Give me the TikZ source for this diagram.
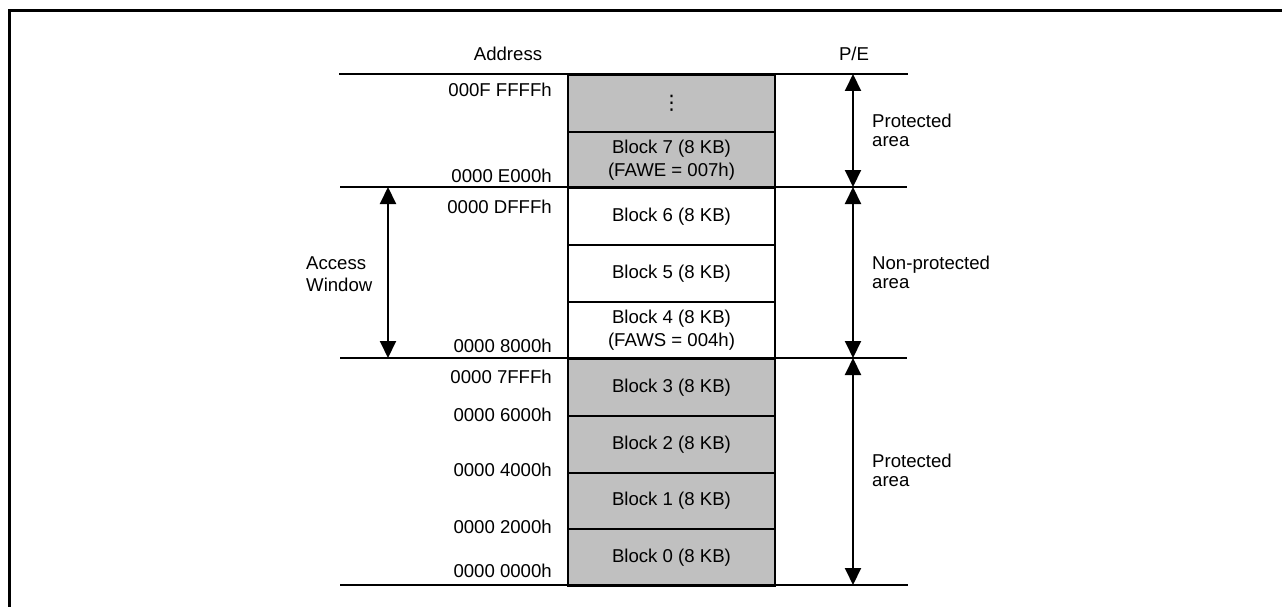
\documentclass[tikz,border=0pt]{standalone}
\usepackage{fontspec}
\setmainfont{Liberation Sans}
\newfontfamily\dejavufont{DejaVu Sans}
\usetikzlibrary{arrows.meta}
\begin{document}
\begin{tikzpicture}[x=1pt,y=-1pt,
  every node/.style={font=\fontsize{18.6}{23}\selectfont},
  blk/.style={draw, line width=2pt, minimum width=207pt, inner sep=0pt, align=center, anchor=north west},
  prot/.style={blk, fill={rgb,255:red,192;green,192;blue,192}},
  open/.style={blk, fill=white},
  addr/.style={anchor=base east, inner sep=0pt},
  side/.style={anchor=west, align=left, inner sep=0pt, font=\fontsize{18.6}{19}\selectfont},
  divline/.style={line width=2pt},
  dimarr/.style={line width=2pt, {Triangle[width=16pt,length=17pt]}-{Triangle[width=16pt,length=17pt]}}
]
\useasboundingbox (0,0) rectangle (1282,607);
% frame
\draw[line width=3pt] (1282,11) -- (9.5,11) -- (9.5,607);

% headers
\node[anchor=base, inner sep=0pt] (haddr) at (508,61) {Address};
\node[anchor=base, inner sep=0pt] (hpe) at (854,61) {P/E};

% blocks
\node[prot, minimum height=57pt] (bdots) at (567,74) {{\dejavufont\fontsize{20}{20}\selectfont ⋮}};
\node[prot, minimum height=56pt] (b7) at (567,131) {Block 7 (8 KB)\\(FAWE = 007h)};
\node[open, minimum height=57pt] (b6) at (567,187) {Block 6 (8 KB)};
\node[open, minimum height=57pt] (b5) at (567,244) {Block 5 (8 KB)};
\node[open, minimum height=57pt] (b4) at (567,301) {Block 4 (8 KB)\\(FAWS = 004h)};
\node[prot, minimum height=57pt] (b3) at (567,358) {Block 3 (8 KB)};
\node[prot, minimum height=57pt] (b2) at (567,415) {Block 2 (8 KB)};
\node[prot, minimum height=56pt] (b1) at (567,472) {Block 1 (8 KB)};
\node[prot, minimum height=57pt] (b0) at (567,528) {Block 0 (8 KB)};

% divider lines
\coordinate (l0a) at (339,74);  \coordinate (l0b) at (908,74);
\coordinate (l1a) at (340,187); \coordinate (l1b) at (907,187);
\coordinate (l2a) at (340,358); \coordinate (l2b) at (907,358);
\coordinate (l3a) at (340,585); \coordinate (l3b) at (908,585);
\draw[divline] (l0a) -- (l0b);
\draw[divline] (l1a) -- (l1b);
\draw[divline] (l2a) -- (l2b);
\draw[divline] (l3a) -- (l3b);

% addresses
\node[addr] (a1) at (552,97) {000F FFFFh};
\node[addr] (a2) at (552,182) {0000 E000h};
\node[addr] (a3) at (552,213) {0000 DFFFh};
\node[addr] (a4) at (552,352) {0000 8000h};
\node[addr] (a5) at (552,383) {0000 7FFFh};
\node[addr] (a6) at (552,421) {0000 6000h};
\node[addr] (a7) at (552,476) {0000 4000h};
\node[addr] (a8) at (552,533) {0000 2000h};
\node[addr] (a9) at (552,577) {0000 0000h};

% P/E arrows
\coordinate (r0) at (853,74);
\coordinate (r1) at (853,187);
\coordinate (r2) at (853,358);
\coordinate (r3) at (853,585);
\draw[dimarr] (r0) -- (r1);
\draw[dimarr] (r1) -- (r2);
\draw[dimarr] (r2) -- (r3);
\node[side] (p1) at (872,130) {Protected\\area};
\node[side] (p2) at (872,272) {Non-protected\\area};
\node[side] (p3) at (872,470.5) {Protected\\area};

% access window
\coordinate (w0) at (388,187);
\coordinate (w1) at (388,358);
\draw[dimarr] (w0) -- (w1);
\node[side, font=\fontsize{18.6}{22.5}\selectfont] (aw) at (306,274) {Access\\Window};
\end{tikzpicture}
\end{document}
